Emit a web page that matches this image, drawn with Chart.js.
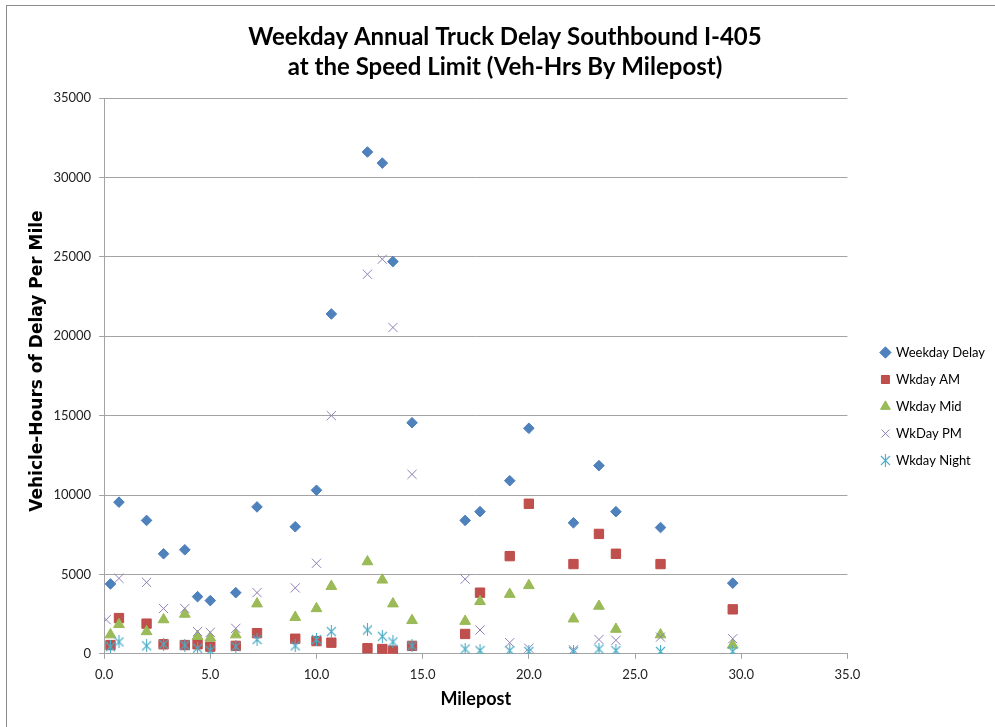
<!DOCTYPE html>
<html>
<head>
<meta charset="utf-8">
<script src="https://cdn.jsdelivr.net/npm/chart.js@4.4.1/dist/chart.umd.min.js"></script>
<style>
  html, body { margin:0; padding:0; background:#fff; }
  #wrap { position:relative; width:995px; height:727px; }
  #frame { position:absolute; left:6px; top:5px; right:0; bottom:0; border-left:1px solid #8c8c8c; border-top:1px solid #8c8c8c; pointer-events:none; }
</style>
</head>
<body>
<div id="wrap">
  <canvas id="delayChart" width="995" height="727"></canvas>
  <div id="frame"></div>
</div>
<script>
// milepost of each count station
const milepost = [0.3, 0.7, 2.0, 2.8, 3.8, 4.4, 5.0, 6.2, 7.2, 9.0, 10.0, 10.7, 12.4, 13.1, 13.6, 14.5, 17.0, 17.7, 19.1, 20.0, 22.1, 23.3, 24.1, 26.2, 29.6];
const pmMilepost = [0.1, 0.7, 2.0, 2.8, 3.8, 4.4, 5.0, 6.2, 7.2, 9.0, 10.0, 10.7, 12.4, 13.1, 13.6, 14.5, 17.0, 17.7, 19.1, 20.0, 22.1, 23.3, 24.1, 26.2, 29.6];

const weekdayDelay = [4400, 9550, 8400, 6300, 6550, 3600, 3350, 3850, 9250, 8000, 10300, 21400, 31600, 30900, 24700, 14550, 8400, 8950, 10900, 14200, 8250, 11850, 8950, 7950, 4450];
const wkdayAM = [550, 2250, 1900, 600, 550, 600, 450, 500, 1300, 950, 800, 700, 350, 300, 200, 500, 1250, 3850, 6150, 9450, 5650, 7550, 6300, 5650, 2800];
const wkdayMid = [1200, 1850, 1400, 2150, 2500, 1100, 1000, 1200, 3150, 2300, 2850, 4250, 5800, 4650, 3150, 2100, 2050, 3300, 3750, 4300, 2200, 3000, 1550, 1200, 550];
const wkdayPM = [2150, 4750, 4500, 2850, 2850, 1400, 1350, 1600, 3850, 4150, 5700, 15000, 23900, 24850, 20550, 11300, 4700, 1500, 700, 350, 250, 900, 850, 1050, 950];
const wkdayNight = [450, 750, 500, 600, 550, 350, 200, 450, 900, 500, 900, 1400, 1500, 1100, 750, 500, 300, 200, 200, 150, 150, 300, 200, 150, 150];

const seriesNames = ["Weekday Delay", "Wkday AM", "Wkday Mid", "WkDay PM", "Wkday Night"];
const titleLines = ["Weekday Annual Truck Delay Southbound I-405", "at the Speed Limit (Veh-Hrs By Milepost)"];

function pts(xs, ys) {
  return xs.map((x, i) => ({x: x, y: ys[i]}));
}

// excel style asterisk: an X with a vertical bar
function asteriskMarker(color) {
  const c = document.createElement("canvas");
  c.width = 11; c.height = 13;
  const g = c.getContext("2d");
  g.strokeStyle = color;
  g.lineWidth = 1.1;
  g.beginPath();
  g.moveTo(1, 2); g.lineTo(10, 11);
  g.moveTo(10, 2); g.lineTo(1, 11);
  g.moveTo(5.5, 0); g.lineTo(5.5, 13);
  g.stroke();
  return c;
}

const gridGray = "#a3a3a3";
const tickFont = {family: "Lato", size: 13};

new Chart(document.getElementById("delayChart"), {
  type: "scatter",
  data: {
    datasets: [
      {label: seriesNames[0], data: pts(milepost, weekdayDelay), pointStyle: "rectRot", pointRadius: 5.3,
        backgroundColor: "#4f81bd", borderColor: "#4a7ebb", borderWidth: 1, order: 4},
      {label: seriesNames[1], data: pts(milepost, wkdayAM), pointStyle: "rect", pointRadius: 6.6,
        backgroundColor: "#c0504d", borderColor: "#be4b48", borderWidth: 1, order: 3},
      {label: seriesNames[2], data: pts(milepost, wkdayMid), pointStyle: "triangle", pointRadius: 6.2,
        backgroundColor: "#9bbb59", borderColor: "#98b954", borderWidth: 1, order: 2},
      {label: seriesNames[3], data: pts(pmMilepost, wkdayPM), pointStyle: "crossRot", pointRadius: 6.5,
        backgroundColor: "#8f80b8", borderColor: "#8f80b8", borderWidth: 1, order: 1},
      {label: seriesNames[4], data: pts(milepost, wkdayNight), pointStyle: asteriskMarker("#4bacc6"),
        backgroundColor: "#4bacc6", borderColor: "#4bacc6", borderWidth: 1, order: 0}
    ]
  },
  options: {
    responsive: false,
    animation: false,
    layout: {padding: {left: 15, right: 0, top: 0, bottom: 17}},
    plugins: {
      tooltip: {enabled: false},
      title: {
        display: true, text: titleLines, color: "#000",
        font: {family: "Lato", size: 24, weight: "bold", lineHeight: 1.25},
        padding: {top: 22, bottom: 16}
      },
      legend: {
        position: "right",
        title: {display: true, text: " ", font: {size: 10}, padding: {top: 0, bottom: 91}},
        labels: {
          usePointStyle: true, boxWidth: 8, boxHeight: 8, padding: 14,
          color: "#000", font: {family: "Lato", size: 13},
          sort: (a, b) => a.datasetIndex - b.datasetIndex
        }
      }
    },
    scales: {
      x: {
        type: "linear", min: 0, max: 35,
        ticks: {stepSize: 5, color: "#222", font: tickFont, padding: 8, callback: v => v.toFixed(1)},
        grid: {drawOnChartArea: false, drawTicks: true, tickLength: 5, color: gridGray},
        border: {display: true, color: gridGray},
        title: {display: true, text: "Milepost", color: "#000", font: {family: "Lato", size: 18, weight: "bold"}, padding: {top: -2, bottom: 0}}
      },
      y: {
        type: "linear", min: 0, max: 35000,
        ticks: {stepSize: 5000, color: "#222", font: tickFont, padding: 8, callback: v => String(v)},
        grid: {color: gridGray, drawTicks: true, tickLength: 5},
        border: {display: true, color: gridGray},
        // leading spaces lift the rotated text a bit, like the excel original
        title: {display: true, text: "     Vehicle-Hours of Delay Per Mile", color: "#000",
          font: {family: "DejaVu Sans", size: 17, weight: "bold"}, padding: {top: 12, bottom: -2}}
      },
      gap: {
        type: "linear", position: "right", display: true,
        grid: {display: false}, border: {display: false}, ticks: {display: false},
        afterFit: s => { s.width = 20; }
      }
    }
  }
});
</script>
</body>
</html>
